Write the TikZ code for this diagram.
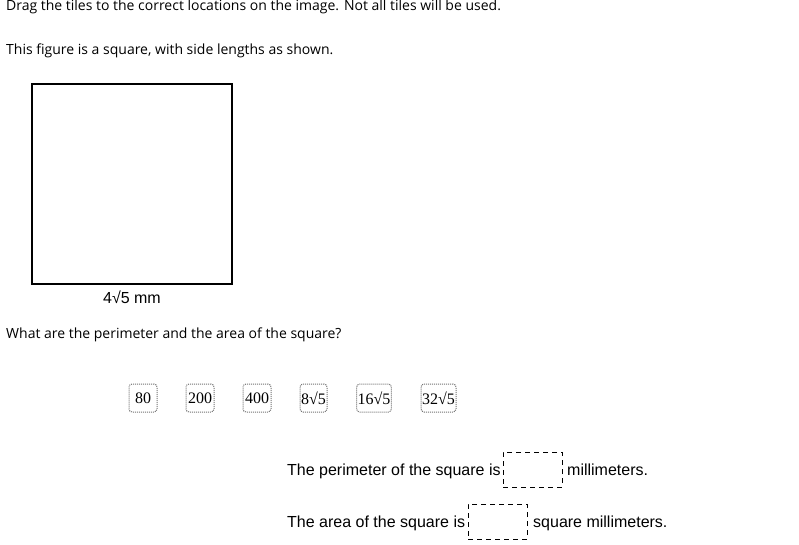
\documentclass[tikz,border=0pt]{standalone}
\usepackage{fontspec}
\setmainfont{Open Sans}
\newfontfamily\arialf{Liberation Sans}
\newfontfamily\timesf{Liberation Serif}
\begin{document}
\begin{tikzpicture}[x=1pt,y=-1pt,
  txt/.style={anchor=base west,inner sep=0pt,font=\fontsize{14}{16}\selectfont},
  atxt/.style={anchor=base west,inner sep=0pt,font=\arialf\fontsize{16}{18}\selectfont},
  tile/.style={draw=black!55,line width=1pt,dash pattern=on 1pt off 1pt,rounded corners=3pt,minimum height=28pt,inner xsep=1pt,font=\timesf\fontsize{16}{18}\selectfont,text=black},
  slot/.style={draw=black,dash pattern=on 5pt off 4pt,line width=0.8pt,minimum width=59pt,minimum height=35pt,inner sep=0pt}]
\useasboundingbox (0,0) rectangle (799,544);
\fill[white] (0,0) rectangle (799,544);
\node[txt] (t1) at (6,10) {Drag the tiles to the correct locations on the image. Not all tiles will be used.};
\node[txt] (t2) at (6,54) {This figure is a square, with side lengths as shown.};
\draw[line width=2pt] (32,84) rectangle (232,284);
\node[anchor=base,inner sep=0pt,font=\arialf\fontsize{16}{18}\selectfont] (lab) at (132,303) {4√5 mm};
\node[txt] (t3) at (6,338) {What are the perimeter and the area of the square?};
\node[tile,minimum width=28pt] (a) at (143,398) {80};
\node[tile,minimum width=28pt] (b) at (200,398) {200};
\node[tile,minimum width=28pt] (c) at (257,398) {400};
\node[tile,minimum width=27pt] (d) at (313.5,398) {8√5};
\node[tile,minimum width=34pt] (e) at (374,398) {16√5};
\node[tile,minimum width=35pt] (f) at (438.5,398) {32√5};
\node[atxt] (p1) at (287,475) {The perimeter of the square is};
\node[slot] (s1) at (532.5,469.5) {};
\node[atxt] (p2) at (567,475) {millimeters.};
\node[atxt] (q1) at (287,527) {The area of the square is};
\node[slot] (s2) at (497.5,521.5) {};
\node[atxt] (q2) at (533,527) {square millimeters.};
\end{tikzpicture}
\end{document}
